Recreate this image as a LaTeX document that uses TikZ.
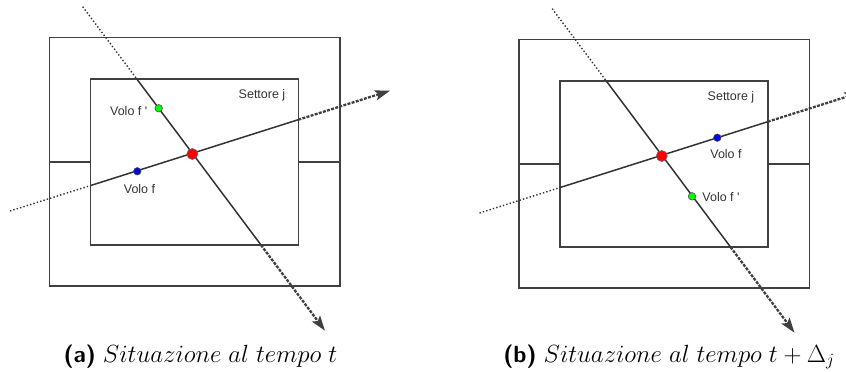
\documentclass[tikz,border=0pt]{standalone}
\usepackage{fontspec}
\newfontfamily\labelfont{Liberation Sans}
\usetikzlibrary{arrows.meta, calc}

\begin{document}
\begin{tikzpicture}[
        x=1pt, y=-1pt,
        frame/.style={
            draw=black!75,
            line width=1.5pt
        },
        track/.style={
            draw=black!80,
            line width=1.5pt
        },
        before/.style={
            draw=black!80,
            line width=1.4pt,
            dash pattern=on 1.4pt off 2.1pt
        },
        after/.style={
            draw=black!75,
            line width=2.3pt,
            dash pattern=on 3pt off 1.3pt,
            -{Stealth[length=15pt, width=10pt, inset=3pt]}
        },
        plane/.style={
            circle,
            inner sep=0pt,
            minimum size=7.5pt,
            draw=black!70,
            line width=0.6pt
        },
        conflict/.style={
            circle,
            inner sep=0pt,
            minimum size=11pt,
            fill=red,
            draw=black!60,
            line width=0.6pt
        },
        tag/.style={
            font=\labelfont\fontsize{12.5}{14}\selectfont,
            text=black!80,
            inner sep=0pt
        },
        caption/.style={
            font=\fontsize{23.4}{26}\selectfont,
            inner sep=0pt,
            anchor=base
        }
    ]
    \clip (0,0) rectangle (846,372);

    % (a) situazione al tempo t
    \begin{scope}
        \draw [frame] (49.3,37.3) rectangle (340,286);
        \draw [frame] (90.7,79) rectangle (298.3,245);
        \draw [frame] (49.3,162) -- (90.7,162);
        \draw [frame] (298.3,162) -- (340,162);

        \coordinate (fa-start) at (10,211);
        \coordinate (fa-in) at (90.7,185.5);
        \coordinate (fa-out) at (298.3,119.7);
        \coordinate (fa-tip) at (390,90.7);
        \coordinate (ga-start) at (82.7,6.7);
        \coordinate (ga-in) at (136.8,79);
        \coordinate (ga-out) at (261,245);
        \coordinate (ga-tip) at (325,330.7);

        \draw [before] (fa-start) -- (fa-in);
        \draw [track] (fa-in) -- (fa-out);
        \draw [after] (fa-out) -- (fa-tip);
        \draw [before] (ga-start) -- (ga-in);
        \draw [track] (ga-in) -- (ga-out);
        \draw [after] (ga-out) -- (ga-tip);

        \node (xa) [conflict] at (192.3,154) {};
        \node (fa) [plane, fill=blue] at (137.3,171.3) {};
        \node (ga) [plane, fill=green] at (158.7,108.3) {};

        \node (sa) [tag] at (262,95.7) {Settore j};
        \node (la) [tag] at (139.5,189.3) {Volo f};
        \node (ma) [tag] at (128.7,111) {Volo f '};

        \node (ca) [caption] at (200.5,362) {\textsf{\bfseries (a)} $Situazione\ al\ tempo\ t$};
    \end{scope}

    % (b) situazione al tempo t + Delta_j
    \begin{scope}[xshift=469.5pt, yshift=-2pt]
        \draw [frame] (49.3,37.3) rectangle (340,286);
        \draw [frame] (90.7,79) rectangle (298.3,245);
        \draw [frame] (49.3,162) -- (90.7,162);
        \draw [frame] (298.3,162) -- (340,162);

        \coordinate (fb-start) at (10,211);
        \coordinate (fb-in) at (90.7,185.5);
        \coordinate (fb-out) at (298.3,119.7);
        \coordinate (fb-tip) at (390,90.7);
        \coordinate (gb-start) at (82.7,6.7);
        \coordinate (gb-in) at (136.8,79);
        \coordinate (gb-out) at (261,245);
        \coordinate (gb-tip) at (325,330.7);

        \draw [before] (fb-start) -- (fb-in);
        \draw [track] (fb-in) -- (fb-out);
        \draw [after] (fb-out) -- (fb-tip);
        \draw [before] (gb-start) -- (gb-in);
        \draw [track] (gb-in) -- (gb-out);
        \draw [after] (gb-out) -- (gb-tip);

        \node (xb) [conflict] at (192.3,154) {};
        \node (fb) [plane, fill=blue] at (247.8,135.7) {};
        \node (gb) [plane, fill=green] at (222.5,194.3) {};

        \node (sb) [tag] at (261.5,95.7) {Settore j};
        \node (lb) [tag] at (256.5,152.3) {Volo f};
        \node (mb) [tag] at (251.5,194.7) {Volo f '};

        \node (cb) [caption] at (199.5,360) {\textsf{\bfseries (b)} $Situazione\ al\ tempo\ t+\Delta_j$};
    \end{scope}
\end{tikzpicture}
\end{document}
